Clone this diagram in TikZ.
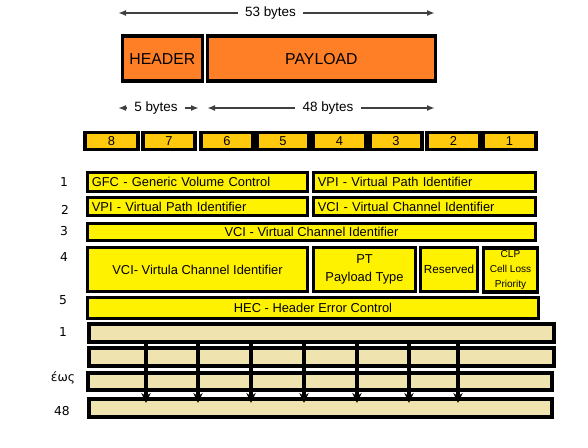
\documentclass[tikz,border=0pt]{standalone}
\usepackage{fontspec}
\setmainfont{Liberation Sans}
\newfontfamily\rowfont{DejaVu Sans}
\usetikzlibrary{positioning,arrows.meta}
\definecolor{cellorange}{HTML}{FF7F27}
\definecolor{cellgold}{HTML}{FFC90E}
\definecolor{cellyellow}{HTML}{FFF200}
\definecolor{celltan}{HTML}{EFE4B0}
\tikzset{
  atmbox/.style={draw, line width=1.15mm, inner sep=1pt, align=center,
    font=\fontsize{11}{13}\selectfont},
  partbox/.style={atmbox, fill=cellorange, minimum height=13.5mm,
    font=\fontsize{13.5}{16}\selectfont},
  bytebox/.style={atmbox, fill=cellgold, minimum width=15.75mm, minimum height=5.1mm,
    line width=1.1mm, inner sep=0pt},
  fieldbox/.style={atmbox, fill=cellyellow},
  leftfield/.style={fieldbox, align=left, inner xsep=1.3mm},
  databox/.style={draw, line width=0.95mm, fill=celltan, minimum height=5.4mm, inner sep=0pt},
  dimlabel/.style={font=\fontsize{11.5}{13}\selectfont, inner xsep=6pt},
  dimarrow/.style={-{Latex[length=2.4mm,width=1.8mm]}, line width=0.5mm, black!75},
  rowlabel/.style={font=\rowfont\fontsize{10.5}{12}\selectfont},
  downarrow/.style={-{Stealth[length=3mm,width=2.8mm]}, line width=0.95mm},
}

\begin{document}
\begin{tikzpicture}[x=0.3mm, y=-0.3mm]
  \useasboundingbox[fill=white] (0,0) rectangle (588,448);
  % cell = header + payload
  \node[partbox, minimum width=24mm, anchor=north west] (header) at (120.5,34.5) {HEADER};
  \node[partbox, minimum width=68.4mm, anchor=north west] (payload) at (205.5,34.5) {PAYLOAD};
  \node[dimlabel] (cell) at (270.5,13) {53 bytes};
  \coordinate (cellL) at (118,13);
  \coordinate (cellR) at (435,13);
  \draw[dimarrow] (cell.west) -- (cellL);
  \draw[dimarrow] (cell.east) -- (cellR);
  \node[dimlabel] (hdr) at (156,108) {5 bytes};
  \coordinate (hdrL) at (118,108);
  \coordinate (hdrR) at (199,108);
  \draw[dimarrow] (hdr.west) -- (hdrL);
  \draw[dimarrow] (hdr.east) -- (hdrR);
  \node[dimlabel] (pay) at (328,108) {48 bytes};
  \coordinate (payL) at (207,108);
  \coordinate (payR) at (435,108);
  \draw[dimarrow] (pay.west) -- (payL);
  \draw[dimarrow] (pay.east) -- (payR);
  % bit numbers
  \foreach \n/\cx in {8/111.5,7/169,6/227,5/283,4/339.5,3/396,2/453.5,1/509.5}
    \node[bytebox] (byte\n) at (\cx,141) {\n};
  % header fields
  \node[leftfield, text width=63.4mm, minimum height=5.7mm] (gfc) at (197.5,182) {GFC - Generic Volume Control};
  \node[leftfield, text width=64mm, minimum height=5.7mm] (vpiA) at (424.5,182) {VPI - Virtual Path Identifier};
  \node[leftfield, text width=63.4mm, minimum height=5.4mm] (vpiB) at (197.5,206.5) {VPI - Virtual Path Identifier};
  \node[leftfield, text width=64mm, minimum height=5.4mm] (vciA) at (424.5,206.5) {VCI - Virtual Channel Identifier};
  \node[fieldbox, minimum width=134.4mm, minimum height=5.1mm] (vciB) at (311.5,232) {VCI - Virtual Channel Identifier};
  \node[fieldbox, minimum width=66mm, minimum height=13.2mm] (vciC) at (197.5,269.5) {VCI- Virtula Channel Identifier};
  \node[fieldbox, minimum width=30.6mm, minimum height=13.2mm, font=\fontsize{11}{16}\selectfont] (pt) at (364.5,269.5) {PT\\Payload Type};
  \node[fieldbox, minimum width=17.1mm, minimum height=13.2mm, inner sep=0pt, font=\fontsize{10}{12}\selectfont] (res) at (449,269.5) {Reserved};
  \node[fieldbox, minimum width=16.2mm, minimum height=13.2mm, inner sep=0pt, font=\fontsize{8.6}{13}\selectfont] (clp) at (510.5,270) {CLP\\Cell Loss\\Priority};
  \node[fieldbox, minimum width=135.3mm, minimum height=6.3mm] (hec) at (313,308) {HEC - Header Error Control};
  % payload bytes
  \node[databox, minimum width=139.5mm] (dataA) at (321.5,333) {};
  \node[databox, minimum width=139.5mm] (dataB) at (321.5,357) {};
  \node[databox, minimum width=139.2mm, minimum height=5.1mm] (dataC) at (320,381.5) {};
  \node[databox, minimum width=138.9mm] (dataD) at (320.5,408) {};
  \foreach \i/\ax in {1/146,2/198,3/251,4/304,5/357,6/409,7/458} {
    \coordinate (top\i) at (\ax,342);
    \coordinate (bot\i) at (\ax,403);
    \draw[downarrow] (top\i) -- (bot\i);
  }
  % row numbers
  \foreach \r/\lx/\ly/\txt in {a/64/182/1, b/65/210/2, c/64/231/3, d/64/257/4,
      e/63/300/5, f/63/332/1, g/63/378/έως, h/62/411/48}
    \node[rowlabel] (row\r) at (\lx,\ly) {\txt};
\end{tikzpicture}
\end{document}
